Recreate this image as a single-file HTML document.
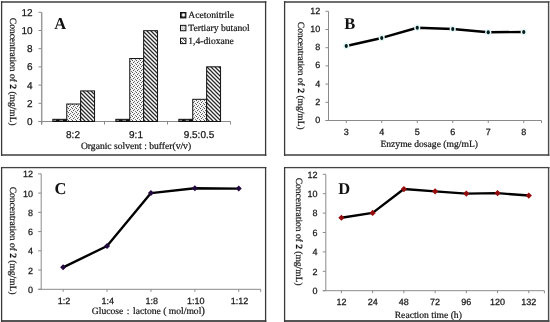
<!DOCTYPE html>
<html><head><meta charset="utf-8"><style>
html,body{margin:0;padding:0;background:#fff;}
svg{display:block;will-change:transform;} text{text-rendering:geometricPrecision;}
</style></head><body>
<svg width="550" height="322" viewBox="0 0 550 322">
<rect width="550" height="322" fill="#fff"/>

<defs>
<pattern id="pDio" patternUnits="userSpaceOnUse" width="4" height="4">
  <rect width="4" height="4" fill="#fff"/>
  <path d="M-1,-1 L5,5 M-1,3 L1,5 M3,-1 L5,1" stroke="#2a2a2a" stroke-width="1.3"/>
</pattern>
<pattern id="pBut" patternUnits="userSpaceOnUse" width="4" height="4">
  <rect width="4" height="4" fill="#f4f4f4"/>
  <rect x="0" y="0" width="1" height="1" fill="#555"/>
  <rect x="2" y="1" width="1" height="1" fill="#777"/>
  <rect x="1" y="2" width="1" height="1" fill="#555"/>
  <rect x="3" y="3" width="1" height="1" fill="#777"/>
</pattern>
<pattern id="pAce" patternUnits="userSpaceOnUse" width="7" height="2">
  <rect width="7" height="2" fill="#808080"/>
  <rect x="0" y="0" width="3.5" height="2" fill="#111"/>
</pattern>
<pattern id="pDioL" patternUnits="userSpaceOnUse" width="4" height="4">
  <rect width="4" height="4" fill="#f4f4f4"/>
  <path d="M-1,-1 L5,5" stroke="#555" stroke-width="1"/>
</pattern>
<pattern id="pButL" patternUnits="userSpaceOnUse" width="2" height="2">
  <rect width="2" height="2" fill="#e0e0e0"/>
  <rect x="0" y="0" width="1" height="1" fill="#b0b0b0"/>
</pattern>
<radialGradient id="pAceL" cx="0.55" cy="0.45" r="0.55"><stop offset="0.3" stop-color="#fff"/><stop offset="0.8" stop-color="#222"/></radialGradient>
</defs>

<rect x="1" y="1" width="265.3" height="2" fill="#6e6e6e"/>
<rect x="1" y="154" width="265.3" height="2" fill="#6e6e6e"/>
<rect x="0.95" y="1" width="1.3" height="155" fill="#3a3a3a"/>
<rect x="264.95" y="1" width="1.3" height="155" fill="#3a3a3a"/>
<rect x="284" y="1" width="265.4" height="2" fill="#6e6e6e"/>
<rect x="284" y="154" width="265.4" height="2" fill="#6e6e6e"/>
<rect x="283.95" y="1" width="1.3" height="155" fill="#3a3a3a"/>
<rect x="547.9" y="1" width="1.4" height="155" fill="#4a4a4a"/>
<rect x="1" y="166.95" width="265.3" height="1.3" fill="#444"/>
<rect x="1" y="320" width="265.3" height="2" fill="#555"/>
<rect x="0.95" y="167" width="1.3" height="155" fill="#3a3a3a"/>
<rect x="264.95" y="167" width="1.3" height="155" fill="#3a3a3a"/>
<rect x="284" y="166.95" width="265.4" height="1.3" fill="#444"/>
<rect x="284" y="320" width="265.4" height="2" fill="#555"/>
<rect x="283.95" y="167" width="1.3" height="155" fill="#3a3a3a"/>
<rect x="547.9" y="167" width="1.4" height="155" fill="#4a4a4a"/>
<line x1="41.7" y1="12.3" x2="41.7" y2="124.5" stroke="#9a9a9a" stroke-width="1.5"/>
<line x1="38.5" y1="121.5" x2="41.5" y2="121.5" stroke="#8a8a8a" stroke-width="1"/>
<text x="32.6" y="125" font-family='"Liberation Sans", sans-serif' font-size="10" text-anchor="end" font-weight="normal" fill="#111" stroke="#222" stroke-width="0.25">0</text>
<line x1="38.5" y1="103.3" x2="41.5" y2="103.3" stroke="#8a8a8a" stroke-width="1"/>
<text x="32.6" y="106.8" font-family='"Liberation Sans", sans-serif' font-size="10" text-anchor="end" font-weight="normal" fill="#111" stroke="#222" stroke-width="0.25">2</text>
<line x1="38.5" y1="85.1" x2="41.5" y2="85.1" stroke="#8a8a8a" stroke-width="1"/>
<text x="32.6" y="88.6" font-family='"Liberation Sans", sans-serif' font-size="10" text-anchor="end" font-weight="normal" fill="#111" stroke="#222" stroke-width="0.25">4</text>
<line x1="38.5" y1="66.9" x2="41.5" y2="66.9" stroke="#8a8a8a" stroke-width="1"/>
<text x="32.6" y="70.4" font-family='"Liberation Sans", sans-serif' font-size="10" text-anchor="end" font-weight="normal" fill="#111" stroke="#222" stroke-width="0.25">6</text>
<line x1="38.5" y1="48.7" x2="41.5" y2="48.7" stroke="#8a8a8a" stroke-width="1"/>
<text x="32.6" y="52.2" font-family='"Liberation Sans", sans-serif' font-size="10" text-anchor="end" font-weight="normal" fill="#111" stroke="#222" stroke-width="0.25">8</text>
<line x1="38.5" y1="30.5" x2="41.5" y2="30.5" stroke="#8a8a8a" stroke-width="1"/>
<text x="32.6" y="34" font-family='"Liberation Sans", sans-serif' font-size="10" text-anchor="end" font-weight="normal" fill="#111" stroke="#222" stroke-width="0.25">10</text>
<line x1="38.5" y1="12.3" x2="41.5" y2="12.3" stroke="#8a8a8a" stroke-width="1"/>
<text x="32.6" y="15.8" font-family='"Liberation Sans", sans-serif' font-size="10" text-anchor="end" font-weight="normal" fill="#111" stroke="#222" stroke-width="0.25">12</text>
<line x1="38.5" y1="121.5" x2="230.5" y2="121.5" stroke="#8a8a8a" stroke-width="1"/>
<line x1="41.5" y1="121.5" x2="41.5" y2="124.5" stroke="#8a8a8a" stroke-width="1"/>
<line x1="104.5" y1="121.5" x2="104.5" y2="124.5" stroke="#8a8a8a" stroke-width="1"/>
<line x1="167.5" y1="121.5" x2="167.5" y2="124.5" stroke="#8a8a8a" stroke-width="1"/>
<line x1="230.5" y1="121.5" x2="230.5" y2="124.5" stroke="#8a8a8a" stroke-width="1"/>
<text x="73" y="137.6" font-family='"Liberation Sans", sans-serif' font-size="10" text-anchor="middle" font-weight="normal" fill="#111" stroke="#222" stroke-width="0.25">8:2</text>
<text x="136" y="137.6" font-family='"Liberation Sans", sans-serif' font-size="10" text-anchor="middle" font-weight="normal" fill="#111" stroke="#222" stroke-width="0.25">9:1</text>
<text x="199" y="137.6" font-family='"Liberation Sans", sans-serif' font-size="10" text-anchor="middle" font-weight="normal" fill="#111" stroke="#222" stroke-width="0.25">9.5:0.5</text>
<rect x="52.85" y="119.32" width="13.9" height="2.18" fill="url(#pAce)" stroke="#111" stroke-width="1"/>
<rect x="66.75" y="104.03" width="13.9" height="17.47" fill="url(#pBut)" stroke="#111" stroke-width="1"/>
<rect x="80.65" y="90.92" width="13.9" height="30.58" fill="url(#pDio)" stroke="#111" stroke-width="1"/>
<rect x="115.85" y="119.32" width="13.9" height="2.18" fill="url(#pAce)" stroke="#111" stroke-width="1"/>
<rect x="129.75" y="58.53" width="13.9" height="62.97" fill="url(#pBut)" stroke="#111" stroke-width="1"/>
<rect x="143.65" y="30.68" width="13.9" height="90.82" fill="url(#pDio)" stroke="#111" stroke-width="1"/>
<rect x="178.85" y="119.32" width="13.9" height="2.18" fill="url(#pAce)" stroke="#111" stroke-width="1"/>
<rect x="192.75" y="99.3" width="13.9" height="22.2" fill="url(#pBut)" stroke="#111" stroke-width="1"/>
<rect x="206.65" y="66.81" width="13.9" height="54.69" fill="url(#pDio)" stroke="#111" stroke-width="1"/>
<text x="54.3" y="29.2" font-family='"Liberation Serif", serif' font-size="16.5" text-anchor="start" font-weight="bold" fill="#111" >A</text>
<text transform="translate(10.4,17.8) rotate(90)" font-family='"Liberation Serif", serif' font-size="9.5" fill="#111" stroke="#111" stroke-width="0.2">Concentration of <tspan font-weight="bold">2</tspan> (mg/mL)</text>
<text x="136" y="148.6" font-family='"Liberation Serif", serif' font-size="9.6" text-anchor="middle" font-weight="normal" fill="#111" stroke="#111" stroke-width="0.2">Organic solvent : buffer(v/v)</text>
<rect x="180.5" y="12.5" width="5.4" height="5.4" fill="url(#pAceL)" stroke="#111" stroke-width="1"/>
<text x="188.3" y="18.2" font-family='"Liberation Serif", serif' font-size="9.6" text-anchor="start" font-weight="normal" fill="#111" stroke="#111" stroke-width="0.2">Acetonitrile</text>
<rect x="180.5" y="25.35" width="5.4" height="5.4" fill="url(#pButL)" stroke="#111" stroke-width="1"/>
<text x="188.3" y="31.05" font-family='"Liberation Serif", serif' font-size="9.6" text-anchor="start" font-weight="normal" fill="#111" stroke="#111" stroke-width="0.2">Tertiary butanol</text>
<rect x="180.5" y="38.2" width="5.4" height="5.4" fill="url(#pDioL)" stroke="#111" stroke-width="1"/>
<text x="188.3" y="43.9" font-family='"Liberation Serif", serif' font-size="9.6" text-anchor="start" font-weight="normal" fill="#111" stroke="#111" stroke-width="0.2">1,4-dioxane</text>
<line x1="328.5" y1="11.3" x2="328.5" y2="120.5" stroke="#8a8a8a" stroke-width="1"/>
<line x1="325.5" y1="120.5" x2="328.5" y2="120.5" stroke="#8a8a8a" stroke-width="1"/>
<text x="320.2" y="122.94" font-family='"Liberation Sans", sans-serif' font-size="9" text-anchor="end" font-weight="normal" fill="#111" stroke="#222" stroke-width="0.25">0</text>
<line x1="325.5" y1="102.3" x2="328.5" y2="102.3" stroke="#8a8a8a" stroke-width="1"/>
<text x="320.2" y="104.74" font-family='"Liberation Sans", sans-serif' font-size="9" text-anchor="end" font-weight="normal" fill="#111" stroke="#222" stroke-width="0.25">2</text>
<line x1="325.5" y1="84.1" x2="328.5" y2="84.1" stroke="#8a8a8a" stroke-width="1"/>
<text x="320.2" y="86.54" font-family='"Liberation Sans", sans-serif' font-size="9" text-anchor="end" font-weight="normal" fill="#111" stroke="#222" stroke-width="0.25">4</text>
<line x1="325.5" y1="65.9" x2="328.5" y2="65.9" stroke="#8a8a8a" stroke-width="1"/>
<text x="320.2" y="68.34" font-family='"Liberation Sans", sans-serif' font-size="9" text-anchor="end" font-weight="normal" fill="#111" stroke="#222" stroke-width="0.25">6</text>
<line x1="325.5" y1="47.7" x2="328.5" y2="47.7" stroke="#8a8a8a" stroke-width="1"/>
<text x="320.2" y="50.14" font-family='"Liberation Sans", sans-serif' font-size="9" text-anchor="end" font-weight="normal" fill="#111" stroke="#222" stroke-width="0.25">8</text>
<line x1="325.5" y1="29.5" x2="328.5" y2="29.5" stroke="#8a8a8a" stroke-width="1"/>
<text x="320.2" y="31.94" font-family='"Liberation Sans", sans-serif' font-size="9" text-anchor="end" font-weight="normal" fill="#111" stroke="#222" stroke-width="0.25">10</text>
<line x1="325.5" y1="11.3" x2="328.5" y2="11.3" stroke="#8a8a8a" stroke-width="1"/>
<text x="320.2" y="13.74" font-family='"Liberation Sans", sans-serif' font-size="9" text-anchor="end" font-weight="normal" fill="#111" stroke="#222" stroke-width="0.25">12</text>
<line x1="325.5" y1="120.5" x2="541.5" y2="120.5" stroke="#8a8a8a" stroke-width="1"/>
<line x1="346.25" y1="120.5" x2="346.25" y2="123" stroke="#8a8a8a" stroke-width="1"/>
<text x="346.25" y="134.9" font-family='"Liberation Sans", sans-serif' font-size="9" text-anchor="middle" font-weight="normal" fill="#111" stroke="#222" stroke-width="0.25">3</text>
<line x1="381.75" y1="120.5" x2="381.75" y2="123" stroke="#8a8a8a" stroke-width="1"/>
<text x="381.75" y="134.9" font-family='"Liberation Sans", sans-serif' font-size="9" text-anchor="middle" font-weight="normal" fill="#111" stroke="#222" stroke-width="0.25">4</text>
<line x1="417.25" y1="120.5" x2="417.25" y2="123" stroke="#8a8a8a" stroke-width="1"/>
<text x="417.25" y="134.9" font-family='"Liberation Sans", sans-serif' font-size="9" text-anchor="middle" font-weight="normal" fill="#111" stroke="#222" stroke-width="0.25">5</text>
<line x1="452.75" y1="120.5" x2="452.75" y2="123" stroke="#8a8a8a" stroke-width="1"/>
<text x="452.75" y="134.9" font-family='"Liberation Sans", sans-serif' font-size="9" text-anchor="middle" font-weight="normal" fill="#111" stroke="#222" stroke-width="0.25">6</text>
<line x1="488.25" y1="120.5" x2="488.25" y2="123" stroke="#8a8a8a" stroke-width="1"/>
<text x="488.25" y="134.9" font-family='"Liberation Sans", sans-serif' font-size="9" text-anchor="middle" font-weight="normal" fill="#111" stroke="#222" stroke-width="0.25">7</text>
<line x1="523.75" y1="120.5" x2="523.75" y2="123" stroke="#8a8a8a" stroke-width="1"/>
<text x="523.75" y="134.9" font-family='"Liberation Sans", sans-serif' font-size="9" text-anchor="middle" font-weight="normal" fill="#111" stroke="#222" stroke-width="0.25">8</text>
<line x1="541.5" y1="120.5" x2="541.5" y2="123" stroke="#8a8a8a" stroke-width="1"/>
<polyline points="346.25,45.97 381.75,37.96 417.25,27.77 452.75,28.95 488.25,32.23 523.75,31.96" fill="none" stroke="#000" stroke-width="2.4" stroke-linejoin="round"/>
<ellipse cx="346.25" cy="45.97" rx="3.1" ry="3.4" fill="#e4f6f6"/>
<ellipse cx="346.25" cy="45.97" rx="1.6" ry="2.0" fill="#061c1c"/>
<ellipse cx="381.75" cy="37.96" rx="3.1" ry="3.4" fill="#e4f6f6"/>
<ellipse cx="381.75" cy="37.96" rx="1.6" ry="2.0" fill="#061c1c"/>
<ellipse cx="417.25" cy="27.77" rx="3.1" ry="3.4" fill="#e4f6f6"/>
<ellipse cx="417.25" cy="27.77" rx="1.6" ry="2.0" fill="#061c1c"/>
<ellipse cx="452.75" cy="28.95" rx="3.1" ry="3.4" fill="#e4f6f6"/>
<ellipse cx="452.75" cy="28.95" rx="1.6" ry="2.0" fill="#061c1c"/>
<ellipse cx="488.25" cy="32.23" rx="3.1" ry="3.4" fill="#e4f6f6"/>
<ellipse cx="488.25" cy="32.23" rx="1.6" ry="2.0" fill="#061c1c"/>
<ellipse cx="523.75" cy="31.96" rx="3.1" ry="3.4" fill="#e4f6f6"/>
<ellipse cx="523.75" cy="31.96" rx="1.6" ry="2.0" fill="#061c1c"/>
<text x="344.2" y="29.2" font-family='"Liberation Serif", serif' font-size="16.5" text-anchor="start" font-weight="bold" fill="#111" >B</text>
<text transform="translate(297.8,21.8) rotate(90)" font-family='"Liberation Serif", serif' font-size="9.5" fill="#111" stroke="#111" stroke-width="0.2">Concentration of <tspan font-weight="bold">2</tspan> (mg/mL)</text>
<text x="429.2" y="147" font-family='"Liberation Serif", serif' font-size="9.6" text-anchor="middle" fill="#111" stroke="#111" stroke-width="0.2">Enzyme dosage (mg/mL)</text>
<line x1="41.2" y1="173.86" x2="41.2" y2="289.3" stroke="#8a8a8a" stroke-width="1"/>
<line x1="38.2" y1="289.3" x2="41.2" y2="289.3" stroke="#8a8a8a" stroke-width="1"/>
<text x="33.1" y="292.74" font-family='"Liberation Sans", sans-serif' font-size="9" text-anchor="end" font-weight="normal" fill="#111" stroke="#222" stroke-width="0.25">0</text>
<line x1="38.2" y1="270.06" x2="41.2" y2="270.06" stroke="#8a8a8a" stroke-width="1"/>
<text x="33.1" y="273.5" font-family='"Liberation Sans", sans-serif' font-size="9" text-anchor="end" font-weight="normal" fill="#111" stroke="#222" stroke-width="0.25">2</text>
<line x1="38.2" y1="250.82" x2="41.2" y2="250.82" stroke="#8a8a8a" stroke-width="1"/>
<text x="33.1" y="254.26" font-family='"Liberation Sans", sans-serif' font-size="9" text-anchor="end" font-weight="normal" fill="#111" stroke="#222" stroke-width="0.25">4</text>
<line x1="38.2" y1="231.58" x2="41.2" y2="231.58" stroke="#8a8a8a" stroke-width="1"/>
<text x="33.1" y="235.02" font-family='"Liberation Sans", sans-serif' font-size="9" text-anchor="end" font-weight="normal" fill="#111" stroke="#222" stroke-width="0.25">6</text>
<line x1="38.2" y1="212.34" x2="41.2" y2="212.34" stroke="#8a8a8a" stroke-width="1"/>
<text x="33.1" y="215.78" font-family='"Liberation Sans", sans-serif' font-size="9" text-anchor="end" font-weight="normal" fill="#111" stroke="#222" stroke-width="0.25">8</text>
<line x1="38.2" y1="193.1" x2="41.2" y2="193.1" stroke="#8a8a8a" stroke-width="1"/>
<text x="33.1" y="196.54" font-family='"Liberation Sans", sans-serif' font-size="9" text-anchor="end" font-weight="normal" fill="#111" stroke="#222" stroke-width="0.25">10</text>
<line x1="38.2" y1="173.86" x2="41.2" y2="173.86" stroke="#8a8a8a" stroke-width="1"/>
<text x="33.1" y="177.3" font-family='"Liberation Sans", sans-serif' font-size="9" text-anchor="end" font-weight="normal" fill="#111" stroke="#222" stroke-width="0.25">12</text>
<line x1="38.2" y1="289.3" x2="260.7" y2="289.3" stroke="#8a8a8a" stroke-width="1"/>
<line x1="63.15" y1="289.3" x2="63.15" y2="291.8" stroke="#8a8a8a" stroke-width="1"/>
<text x="63.95" y="303.9" font-family='"Liberation Sans", sans-serif' font-size="9" text-anchor="middle" font-weight="normal" fill="#111" stroke="#222" stroke-width="0.25">1:2</text>
<line x1="107.05" y1="289.3" x2="107.05" y2="291.8" stroke="#8a8a8a" stroke-width="1"/>
<text x="107.85" y="303.9" font-family='"Liberation Sans", sans-serif' font-size="9" text-anchor="middle" font-weight="normal" fill="#111" stroke="#222" stroke-width="0.25">1:4</text>
<line x1="150.95" y1="289.3" x2="150.95" y2="291.8" stroke="#8a8a8a" stroke-width="1"/>
<text x="151.75" y="303.9" font-family='"Liberation Sans", sans-serif' font-size="9" text-anchor="middle" font-weight="normal" fill="#111" stroke="#222" stroke-width="0.25">1:8</text>
<line x1="194.85" y1="289.3" x2="194.85" y2="291.8" stroke="#8a8a8a" stroke-width="1"/>
<text x="195.65" y="303.9" font-family='"Liberation Sans", sans-serif' font-size="9" text-anchor="middle" font-weight="normal" fill="#111" stroke="#222" stroke-width="0.25">1:10</text>
<line x1="238.75" y1="289.3" x2="238.75" y2="291.8" stroke="#8a8a8a" stroke-width="1"/>
<text x="239.55" y="303.9" font-family='"Liberation Sans", sans-serif' font-size="9" text-anchor="middle" font-weight="normal" fill="#111" stroke="#222" stroke-width="0.25">1:12</text>
<line x1="260.7" y1="289.3" x2="260.7" y2="291.8" stroke="#8a8a8a" stroke-width="1"/>
<polyline points="63.15,267.37 107.05,246.01 150.95,193.1 194.85,188.29 238.75,188.58" fill="none" stroke="#000" stroke-width="2.4" stroke-linejoin="round"/>
<path d="M63.15,264.37 L66.15,267.37 L63.15,270.37 L60.15,267.37 Z" fill="#22093f" stroke="none" stroke-width="0"/>
<path d="M107.05,243.01 L110.05,246.01 L107.05,249.01 L104.05,246.01 Z" fill="#22093f" stroke="none" stroke-width="0"/>
<path d="M150.95,190.1 L153.95,193.1 L150.95,196.1 L147.95,193.1 Z" fill="#22093f" stroke="none" stroke-width="0"/>
<path d="M194.85,185.29 L197.85,188.29 L194.85,191.29 L191.85,188.29 Z" fill="#22093f" stroke="none" stroke-width="0"/>
<path d="M238.75,185.58 L241.75,188.58 L238.75,191.58 L235.75,188.58 Z" fill="#22093f" stroke="none" stroke-width="0"/>
<text x="54.6" y="194" font-family='"Liberation Serif", serif' font-size="16.5" text-anchor="start" font-weight="bold" fill="#111" >C</text>
<text transform="translate(10.4,186.7) rotate(90)" font-family='"Liberation Serif", serif' font-size="9.5" fill="#111" stroke="#111" stroke-width="0.2">Concentration of <tspan font-weight="bold">2</tspan> (mg/mL)</text>
<text x="91.8" y="313.5" font-family='"Liberation Serif", serif' font-size="9.6" fill="#111" stroke="#111" stroke-width="0.2">Glucose<tspan dx="3.6">:</tspan><tspan dx="3.6">lactone ( mol/mol</tspan><tspan font-size="11">)</tspan></text>
<line x1="325.8" y1="174.3" x2="325.8" y2="290.7" stroke="#8a8a8a" stroke-width="1"/>
<line x1="322.8" y1="290.7" x2="325.8" y2="290.7" stroke="#8a8a8a" stroke-width="1"/>
<text x="317.6" y="293.94" font-family='"Liberation Sans", sans-serif' font-size="9" text-anchor="end" font-weight="normal" fill="#111" stroke="#222" stroke-width="0.25">0</text>
<line x1="322.8" y1="271.3" x2="325.8" y2="271.3" stroke="#8a8a8a" stroke-width="1"/>
<text x="317.6" y="274.54" font-family='"Liberation Sans", sans-serif' font-size="9" text-anchor="end" font-weight="normal" fill="#111" stroke="#222" stroke-width="0.25">2</text>
<line x1="322.8" y1="251.9" x2="325.8" y2="251.9" stroke="#8a8a8a" stroke-width="1"/>
<text x="317.6" y="255.14" font-family='"Liberation Sans", sans-serif' font-size="9" text-anchor="end" font-weight="normal" fill="#111" stroke="#222" stroke-width="0.25">4</text>
<line x1="322.8" y1="232.5" x2="325.8" y2="232.5" stroke="#8a8a8a" stroke-width="1"/>
<text x="317.6" y="235.74" font-family='"Liberation Sans", sans-serif' font-size="9" text-anchor="end" font-weight="normal" fill="#111" stroke="#222" stroke-width="0.25">6</text>
<line x1="322.8" y1="213.1" x2="325.8" y2="213.1" stroke="#8a8a8a" stroke-width="1"/>
<text x="317.6" y="216.34" font-family='"Liberation Sans", sans-serif' font-size="9" text-anchor="end" font-weight="normal" fill="#111" stroke="#222" stroke-width="0.25">8</text>
<line x1="322.8" y1="193.7" x2="325.8" y2="193.7" stroke="#8a8a8a" stroke-width="1"/>
<text x="317.6" y="196.94" font-family='"Liberation Sans", sans-serif' font-size="9" text-anchor="end" font-weight="normal" fill="#111" stroke="#222" stroke-width="0.25">10</text>
<line x1="322.8" y1="174.3" x2="325.8" y2="174.3" stroke="#8a8a8a" stroke-width="1"/>
<text x="317.6" y="177.54" font-family='"Liberation Sans", sans-serif' font-size="9" text-anchor="end" font-weight="normal" fill="#111" stroke="#222" stroke-width="0.25">12</text>
<line x1="322.8" y1="290.7" x2="544.4" y2="290.7" stroke="#8a8a8a" stroke-width="1"/>
<line x1="341.41" y1="290.7" x2="341.41" y2="293.2" stroke="#8a8a8a" stroke-width="1"/>
<text x="341.41" y="305.3" font-family='"Liberation Sans", sans-serif' font-size="9" text-anchor="middle" font-weight="normal" fill="#111" stroke="#222" stroke-width="0.25">12</text>
<line x1="372.64" y1="290.7" x2="372.64" y2="293.2" stroke="#8a8a8a" stroke-width="1"/>
<text x="372.64" y="305.3" font-family='"Liberation Sans", sans-serif' font-size="9" text-anchor="middle" font-weight="normal" fill="#111" stroke="#222" stroke-width="0.25">24</text>
<line x1="403.87" y1="290.7" x2="403.87" y2="293.2" stroke="#8a8a8a" stroke-width="1"/>
<text x="403.87" y="305.3" font-family='"Liberation Sans", sans-serif' font-size="9" text-anchor="middle" font-weight="normal" fill="#111" stroke="#222" stroke-width="0.25">48</text>
<line x1="435.1" y1="290.7" x2="435.1" y2="293.2" stroke="#8a8a8a" stroke-width="1"/>
<text x="435.1" y="305.3" font-family='"Liberation Sans", sans-serif' font-size="9" text-anchor="middle" font-weight="normal" fill="#111" stroke="#222" stroke-width="0.25">72</text>
<line x1="466.33" y1="290.7" x2="466.33" y2="293.2" stroke="#8a8a8a" stroke-width="1"/>
<text x="466.33" y="305.3" font-family='"Liberation Sans", sans-serif' font-size="9" text-anchor="middle" font-weight="normal" fill="#111" stroke="#222" stroke-width="0.25">96</text>
<line x1="497.56" y1="290.7" x2="497.56" y2="293.2" stroke="#8a8a8a" stroke-width="1"/>
<text x="497.56" y="305.3" font-family='"Liberation Sans", sans-serif' font-size="9" text-anchor="middle" font-weight="normal" fill="#111" stroke="#222" stroke-width="0.25">120</text>
<line x1="528.79" y1="290.7" x2="528.79" y2="293.2" stroke="#8a8a8a" stroke-width="1"/>
<text x="528.79" y="305.3" font-family='"Liberation Sans", sans-serif' font-size="9" text-anchor="middle" font-weight="normal" fill="#111" stroke="#222" stroke-width="0.25">132</text>
<line x1="544.4" y1="290.7" x2="544.4" y2="293.2" stroke="#8a8a8a" stroke-width="1"/>
<polyline points="341.41,217.76 372.64,212.91 403.87,189.04 435.1,191.37 466.33,193.6 497.56,193.12 528.79,195.54" fill="none" stroke="#000" stroke-width="2.4" stroke-linejoin="round"/>
<path d="M341.41,214.66 L344.51,217.76 L341.41,220.86 L338.31,217.76 Z" fill="#940c0c" stroke="none" stroke-width="0"/>
<path d="M372.64,209.81 L375.74,212.91 L372.64,216.01 L369.54,212.91 Z" fill="#940c0c" stroke="none" stroke-width="0"/>
<path d="M403.87,185.94 L406.97,189.04 L403.87,192.14 L400.77,189.04 Z" fill="#940c0c" stroke="none" stroke-width="0"/>
<path d="M435.1,188.27 L438.2,191.37 L435.1,194.47 L432,191.37 Z" fill="#940c0c" stroke="none" stroke-width="0"/>
<path d="M466.33,190.5 L469.43,193.6 L466.33,196.7 L463.23,193.6 Z" fill="#940c0c" stroke="none" stroke-width="0"/>
<path d="M497.56,190.02 L500.66,193.12 L497.56,196.22 L494.46,193.12 Z" fill="#940c0c" stroke="none" stroke-width="0"/>
<path d="M528.79,192.44 L531.89,195.54 L528.79,198.64 L525.69,195.54 Z" fill="#940c0c" stroke="none" stroke-width="0"/>
<text x="338.2" y="194.3" font-family='"Liberation Serif", serif' font-size="16.5" text-anchor="start" font-weight="bold" fill="#111" >D</text>
<text transform="translate(295.5,177.7) rotate(90)" font-family='"Liberation Serif", serif' font-size="9.5" fill="#111" stroke="#111" stroke-width="0.2">Concentration of <tspan font-weight="bold">2</tspan> (mg/mL)</text>
<text x="428.3" y="317.9" font-family='"Liberation Serif", serif' font-size="9.6" text-anchor="middle" fill="#111" stroke="#111" stroke-width="0.2">Reaction time (h)</text>
</svg>
</body></html>
